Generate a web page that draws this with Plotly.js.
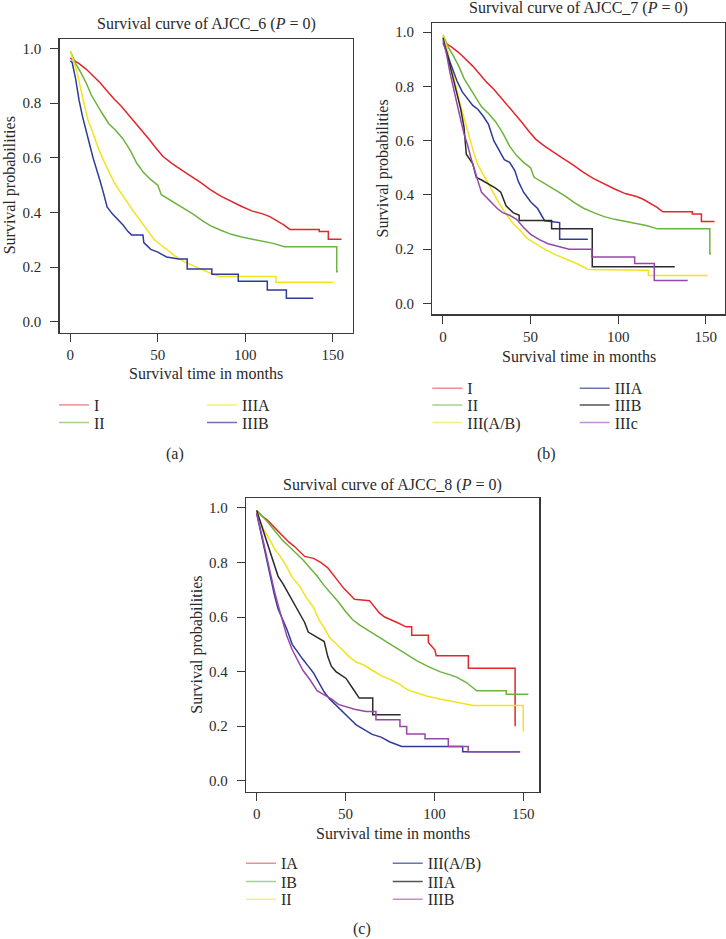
<!DOCTYPE html>
<html><head><meta charset="utf-8">
<script src="https://cdn.plot.ly/plotly-3.0.1.min.js"></script>
<style>html,body{margin:0;padding:0;background:#fff}#chart{width:726px;height:939px}</style>
</head><body><div id="chart"></div>
<script>
// ---------- Panel (a): AJCC_6 ----------
const a_I_t  = [0,2,5,9,13,17,21,25,29,33,37,41,45,49,53,58,63,68,74,80,86,92,98,104,110,114,118,122,125.5,142.3,142.3,147.5,147.5,155];
const a_I_s  = [0.965,0.958,0.945,0.925,0.9,0.875,0.845,0.815,0.79,0.76,0.73,0.70,0.668,0.635,0.605,0.58,0.56,0.537,0.512,0.484,0.46,0.44,0.422,0.405,0.395,0.385,0.37,0.355,0.338,0.338,0.33,0.33,0.302,0.302];
const a_II_t = [0,3,6,9,12,15,18,22,26,30,34,38,42,46,50,52,56,60,65,70,75,80,86,92,98,104,110,116,122.5,152.3,152.3,153];
const a_II_s = [0.99,0.945,0.912,0.875,0.83,0.8,0.765,0.725,0.7,0.67,0.63,0.58,0.545,0.52,0.5,0.465,0.45,0.435,0.415,0.395,0.372,0.352,0.335,0.32,0.31,0.302,0.295,0.287,0.275,0.275,0.183,0.183];
const a_IIIA_t = [0,2,4,6,8,10,13,16,19,22,25,28,32,36,40,44,48,52,56,60,65,70,75,80,85,117.5,117.5,150.3];
const a_IIIA_s = [0.99,0.95,0.91,0.85,0.8,0.74,0.69,0.635,0.59,0.55,0.51,0.48,0.44,0.405,0.37,0.335,0.3,0.28,0.26,0.24,0.22,0.205,0.19,0.178,0.166,0.166,0.145,0.145];
const a_IIIB_t = [0,1,3,5,7,9,11,13,15,17,19,21,24,27,30,33,35,41.5,42,46,50,55,62,66.8,66.8,80.9,80.9,96,96,112.6,112.6,123.5,123.5,138.9];
const a_IIIB_s = [0.955,0.95,0.89,0.81,0.75,0.695,0.65,0.6,0.56,0.515,0.47,0.42,0.395,0.375,0.355,0.33,0.318,0.318,0.29,0.265,0.255,0.237,0.23,0.23,0.193,0.193,0.174,0.174,0.148,0.148,0.116,0.116,0.086,0.086];
const a_names = ["I","II","IIIA","IIIB"];

// ---------- Panel (b): AJCC_7 ----------
const b_I_t  = [0,2,5,9,13,17,21,25,29,33,37,41,45,49,53,58,63,68,74,80,86,92,98,104,110,114,118,122,125.5,142.3,142.3,147.5,147.5,155];
const b_I_s  = [0.965,0.958,0.945,0.925,0.9,0.875,0.845,0.815,0.79,0.76,0.73,0.70,0.668,0.635,0.605,0.58,0.56,0.537,0.512,0.484,0.46,0.44,0.422,0.405,0.395,0.385,0.37,0.355,0.338,0.338,0.33,0.33,0.302,0.302];
const b_II_t = [0,3,6,9,12,15,18,22,26,30,34,38,42,46,50,52,56,60,65,70,75,80,86,92,98,104,110,116,122.5,152.3,152.3,153];
const b_II_s = [0.99,0.945,0.912,0.875,0.83,0.8,0.765,0.725,0.7,0.67,0.63,0.58,0.545,0.52,0.5,0.465,0.45,0.435,0.415,0.395,0.372,0.352,0.335,0.32,0.31,0.302,0.295,0.287,0.275,0.275,0.183,0.183];
const b_IIIAB_t = [0,2,4,6,8,10,12,14,16,18,20,23,26,29,32,36,40,44,48,53,58,64,70,76,82.9,117.2,117.2,151.1];
const b_IIIAB_s = [0.99,0.95,0.89,0.835,0.78,0.73,0.685,0.64,0.59,0.545,0.51,0.475,0.44,0.405,0.37,0.33,0.295,0.27,0.24,0.22,0.2,0.18,0.163,0.148,0.125,0.122,0.103,0.103];
const b_IIIA_t = [0,2,4,6,8,11,14,17,20,23,26,29,32,35,38,41,43,46,50,54,58,66.6,66.6,82.7];
const b_IIIA_s = [0.96,0.93,0.89,0.855,0.82,0.78,0.755,0.73,0.715,0.69,0.66,0.6,0.565,0.53,0.52,0.49,0.45,0.41,0.375,0.35,0.305,0.298,0.237,0.237];
const b_IIIB_t = [0,2,4,6,8,10,12,13.3,17,19,22,26,30,33,36,40,43.5,43.5,62,62,85.2,85.2,132.3];
const b_IIIB_s = [0.98,0.93,0.87,0.82,0.78,0.72,0.65,0.55,0.515,0.465,0.455,0.44,0.425,0.41,0.36,0.335,0.325,0.306,0.306,0.275,0.275,0.135,0.135];
const b_IIIc_t = [0,2,4,6,8,10,12,14,16,18,20,22,25,28,31,34,38,42,46,50,55,60,66,72,85,85,109.4,109.4,120.6,120.6,139.7];
const b_IIIc_s = [0.97,0.92,0.85,0.79,0.73,0.68,0.625,0.585,0.535,0.49,0.45,0.41,0.39,0.37,0.35,0.335,0.325,0.31,0.28,0.255,0.235,0.22,0.21,0.2,0.2,0.171,0.171,0.147,0.147,0.085,0.085];
const b_names = ["I","II","III(A/B)","IIIA","IIIB","IIIc"];

// ---------- Panel (c): AJCC_8 ----------
const c_IA_t = [0,3,6,9,12,15,18,21,24,27,32,36,40,43,46,49,52,55,63.5,66,69,72,76,79,84,87.2,87.2,96.6,96.6,100.3,101,119.1,119.1,145.4,145.4];
const c_IA_s = [0.99,0.97,0.955,0.935,0.915,0.895,0.875,0.86,0.84,0.822,0.815,0.8,0.78,0.755,0.73,0.705,0.685,0.665,0.66,0.64,0.615,0.6,0.59,0.58,0.564,0.564,0.533,0.533,0.507,0.479,0.458,0.458,0.412,0.412,0.2];
const c_IB_t = [0,3,6,9,12,15,18,22,26,30,34,38,42,46,50,54,58,63,68,73,78,84,90,96,103,108,112.5,118,123.8,140.4,140.4,152.8];
const c_IB_s = [0.99,0.97,0.95,0.925,0.9,0.878,0.86,0.835,0.81,0.78,0.75,0.715,0.685,0.655,0.62,0.59,0.57,0.55,0.53,0.51,0.49,0.465,0.44,0.42,0.4,0.39,0.38,0.36,0.33,0.33,0.317,0.317];
const c_II_t = [0,2,4,6,8,10,13,16,20,24,28,32,35,38,41,45,48,52,56,60,65,70,75,80,85,90,96,103,112.5,121.9,150,150,150.5];
const c_II_s = [0.99,0.95,0.92,0.9,0.875,0.85,0.825,0.795,0.745,0.715,0.67,0.635,0.59,0.56,0.525,0.5,0.48,0.455,0.435,0.425,0.405,0.385,0.372,0.355,0.333,0.322,0.31,0.3,0.288,0.276,0.276,0.183,0.183];
const c_IIIAB_t = [0,2,4,6,8,10,12,14,17,20,23,26,29,32,35,38,41,44,48,52,56,60,65,70,75,81.6,115.9,115.9,148.2];
const c_IIIAB_s = [0.98,0.92,0.85,0.79,0.73,0.68,0.63,0.6,0.555,0.5,0.47,0.445,0.42,0.395,0.36,0.325,0.3,0.28,0.255,0.23,0.205,0.19,0.17,0.16,0.142,0.126,0.126,0.106,0.106];
const c_IIIA_t = [0,2,4,6,8,10,12,15,18,21,24,27,29,33,38,40,42,44.6,48,50.3,54,57.7,65.3,65.3,81];
const c_IIIA_s = [0.99,0.95,0.91,0.87,0.83,0.79,0.75,0.72,0.685,0.65,0.62,0.58,0.545,0.53,0.51,0.455,0.42,0.4,0.385,0.375,0.339,0.303,0.303,0.242,0.242];
const c_IIIB_t = [0,2,4,6,8,10,12,14,17,20,23,26,30,34,38,42,46,50,55,61.5,67.1,67.1,80.6,80.6,84.4,84.4,94.7,94.7,107.8,107.8,119,119,148.2];
const c_IIIB_s = [0.98,0.93,0.87,0.81,0.75,0.695,0.645,0.6,0.53,0.48,0.44,0.405,0.37,0.33,0.315,0.3,0.28,0.272,0.262,0.254,0.254,0.224,0.224,0.199,0.199,0.171,0.171,0.154,0.154,0.126,0.126,0.106,0.106];
const c_names = ["IA","IB","II","III(A/B)","IIIA","IIIB"];

const xTicks = [0,50,100,150];
const yTicks = [0,0.2,0.4,0.6,0.8,1.0];
const titles = ["Survival curve of AJCC_6 (<i>P</i> = 0)","Survival curve of AJCC_7 (<i>P</i> = 0)","Survival curve of AJCC_8 (<i>P</i> = 0)"];
const xTitle = "Survival time in months";
const yTitle = "Survival probabilities";
const panelLabels = ["(a)","(b)","(c)"];

// ---------- styling ----------
const W = 726, H = 939;
const FONT = "Liberation Serif, 'Times New Roman', DejaVu Serif, serif";
const TXT = "#2a2a2a";
const COL = {red:"#e3262b", green:"#6cb33e", yellow:"#f2e31b", blue:"#2f3b98", black:"#2b2b2b", purple:"#9647a8"};
const LCOL = {red:"#ec8f8f", green:"#a6d08e", yellow:"#f6ec86", blue:"#6c73ad", black:"#555555", purple:"#c18fcf"};
const fx = p => p / W, fy = p => 1 - p / H;

const panels = [
  {ax:"", series:[[a_I_t,a_I_s,"red"],[a_II_t,a_II_s,"green"],[a_IIIA_t,a_IIIA_s,"yellow"],[a_IIIB_t,a_IIIB_s,"blue"]], names:a_names,
   box:[59.5,39,353,332.7], xr:[-6.2,161.6], titleY:24, xtY:374, ytX:9.5, lab:[174.5,454],
   legCols:[59,207], legRows:[405,422.7], perCol:2},
  {ax:"2", series:[[b_I_t,b_I_s,"red"],[b_II_t,b_II_s,"green"],[b_IIIAB_t,b_IIIAB_s,"yellow"],[b_IIIA_t,b_IIIA_s,"blue"],[b_IIIB_t,b_IIIB_s,"black"],[b_IIIc_t,b_IIIc_s,"purple"]], names:b_names,
   box:[432.3,22.7,724.7,314.3], xr:[-6.1,160.8], titleY:8.5, xtY:356, ytX:382, lab:[546.8,454],
   legCols:[432.3,579.7], legRows:[388.3,405,422.7], perCol:3},
  {ax:"3", series:[[c_IA_t,c_IA_s,"red"],[c_IB_t,c_IB_s,"green"],[c_II_t,c_II_s,"yellow"],[c_IIIAB_t,c_IIIAB_s,"blue"],[c_IIIA_t,c_IIIA_s,"black"],[c_IIIB_t,c_IIIB_s,"purple"]], names:c_names,
   box:[246,498.3,539.3,791.7], xr:[-6.0,159.0], titleY:485, xtY:833, ytX:196.7, lab:[362,929],
   legCols:[246,392.7], legRows:[863.3,881.7,899.3], perCol:3}
];

const traces = [];
const layout = {
  width:W, height:H, margin:{l:0,r:0,t:0,b:0}, paper_bgcolor:"#fff", plot_bgcolor:"#fff",
  font:{family:FONT, color:TXT, size:15}, showlegend:true, annotations:[]
};
let legIdx = 0;
panels.forEach((p, pi) => {
  const xa = "x"+p.ax, ya = "y"+p.ax;
  const [l,t,r,b] = p.box;
  const axCommon = {showgrid:false, zeroline:false, showline:true, mirror:true, linecolor:"#3a3a3a", linewidth:1.2,
    ticks:"outside", ticklen:8, tickwidth:1, tickcolor:"#3a3a3a", tickfont:{family:FONT,size:15,color:TXT}, fixedrange:true};
  layout["xaxis"+p.ax] = Object.assign({}, axCommon, {domain:[fx(l),fx(r)], anchor:ya, range:p.xr, tickvals:xTicks, ticklabelstandoff:0});
  layout["yaxis"+p.ax] = Object.assign({}, axCommon, {domain:[fy(b),fy(t)], anchor:xa, range:[-0.04,1.035], tickvals:yTicks, tickformat:".1f", ticklabelstandoff:6});
  const cx = fx((l+r)/2);
  layout.annotations.push(
    {text:titles[pi], x:cx, y:fy(p.titleY), xref:"paper", yref:"paper", xanchor:"center", yanchor:"middle", showarrow:false, font:{family:FONT,size:16,color:TXT}},
    {text:xTitle, x:cx, y:fy(p.xtY), xref:"paper", yref:"paper", xanchor:"center", yanchor:"middle", showarrow:false, font:{family:FONT,size:16,color:TXT}},
    {text:yTitle, x:fx(p.ytX), y:fy((t+b)/2), xref:"paper", yref:"paper", xanchor:"center", yanchor:"middle", textangle:-90, showarrow:false, font:{family:FONT,size:16,color:TXT}},
    {text:panelLabels[pi], x:fx(p.lab[0]), y:fy(p.lab[1]), xref:"paper", yref:"paper", xanchor:"center", yanchor:"middle", showarrow:false, font:{family:FONT,size:16,color:TXT}}
  );
  p.series.forEach((s, i) => {
    traces.push({type:"scatter", mode:"lines", x:s[0], y:s[1], xaxis:xa, yaxis:ya, name:p.names[i], showlegend:false,
      line:{color:COL[s[2]], width:1.5, shape:"linear"}, hoverinfo:"skip"});
    const col = Math.floor(i / p.perCol), row = i % p.perCol;
    legIdx++;
    const lk = legIdx === 1 ? "legend" : "legend"+legIdx;
    layout[lk] = {x:fx(p.legCols[col]-5), y:fy(p.legRows[row]), xanchor:"left", yanchor:"middle", bgcolor:"rgba(0,0,0,0)",
      borderwidth:0, font:{family:FONT,size:16,color:TXT}, itemwidth:30, tracegroupgap:0};
    traces.push({type:"scatter", mode:"lines", x:[null], y:[null], xaxis:xa, yaxis:ya, name:p.names[i], legend:lk, showlegend:true,
      line:{color:LCOL[s[2]], width:1.5}, hoverinfo:"skip"});
  });
});

Plotly.newPlot("chart", traces, layout, {displayModeBar:false, staticPlot:true});
</script></body></html>
